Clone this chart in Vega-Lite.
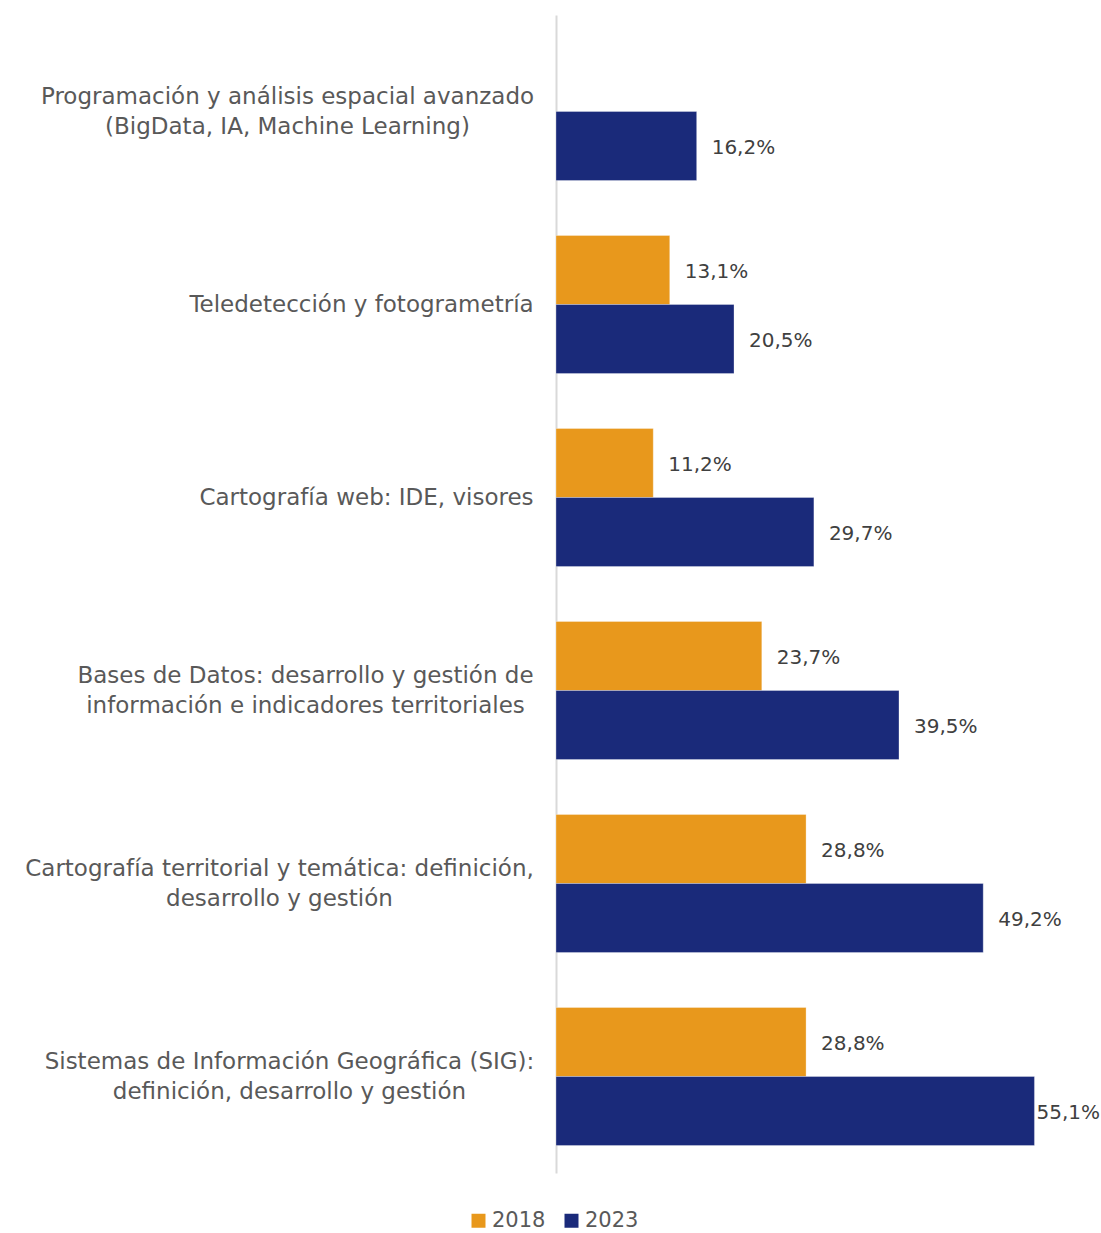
{
  "$schema": "https://vega.github.io/schema/vega-lite/v6.json",
  "autosize": "none",
  "width": 521,
  "height": 1158,
  "padding": {"left": 556, "top": 15, "right": 24, "bottom": 60},
  "background": "white",
  "config": {"view": {"stroke": null}, "font": "DejaVu Sans"},
  "data": {"values": [
    {"cat": "Programación y análisis espacial avanzado|(BigData, IA, Machine Learning)", "year": "2023", "value": 16.2},
    {"cat": "Teledetección y fotogrametría", "year": "2018", "value": 13.1},
    {"cat": "Teledetección y fotogrametría", "year": "2023", "value": 20.5},
    {"cat": "Cartografía web: IDE, visores", "year": "2018", "value": 11.2},
    {"cat": "Cartografía web: IDE, visores", "year": "2023", "value": 29.7},
    {"cat": "Bases de Datos: desarrollo y gestión de|información e indicadores territoriales", "year": "2018", "value": 23.7},
    {"cat": "Bases de Datos: desarrollo y gestión de|información e indicadores territoriales", "year": "2023", "value": 39.5},
    {"cat": "Cartografía territorial y temática: definición,|desarrollo y gestión", "year": "2018", "value": 28.8},
    {"cat": "Cartografía territorial y temática: definición,|desarrollo y gestión", "year": "2023", "value": 49.2},
    {"cat": "Sistemas de Información Geográfica (SIG):|definición, desarrollo y gestión", "year": "2018", "value": 28.8},
    {"cat": "Sistemas de Información Geográfica (SIG):|definición, desarrollo y gestión", "year": "2023", "value": 55.1}
  ]},
  "transform": [
    {"calculate": "replace(format(datum.value, '.1f'), '.', ',') + '%'", "as": "label"}
  ],
  "encoding": {
    "y": {
      "field": "cat", "type": "nominal", "sort": null,
      "scale": {"paddingInner": 0.285, "paddingOuter": 0.1425},
      "axis": {
        "title": null, "ticks": false, "domain": true, "domainColor": "#d9d9d9", "domainWidth": 2,
        "labelFontSize": 23, "labelLineHeight": 30, "labelLimit": 600,
        "labelColor": "#595959", "labelAlign": "center",
        "labelPadding": {
          "condition": [
            {"test": "datum.value == 'Programación y análisis espacial avanzado|(BigData, IA, Machine Learning)'", "value": 269},
            {"test": "datum.value == 'Teledetección y fotogrametría'", "value": 195},
            {"test": "datum.value == 'Cartografía web: IDE, visores'", "value": 190},
            {"test": "datum.value == 'Bases de Datos: desarrollo y gestión de|información e indicadores territoriales'", "value": 251},
            {"test": "datum.value == 'Cartografía territorial y temática: definición,|desarrollo y gestión'", "value": 277}
          ],
          "value": 267
        },
        "labelOffset": {
          "condition": {"test": "datum.value != 'Teledetección y fotogrametría' && datum.value != 'Cartografía web: IDE, visores'", "value": -15},
          "value": 0
        },
        "labelExpr": "split(datum.label, '|')"
      }
    },
    "yOffset": {"field": "year", "type": "nominal", "scale": {"paddingInner": 0, "paddingOuter": 0}},
    "x": {"field": "value", "type": "quantitative", "scale": {"domain": [0, 60]}, "axis": null}
  },
  "layer": [
    {
      "mark": {"type": "bar", "stroke": "#ffffff", "strokeWidth": 0.5, "strokeOpacity": 0.6},
      "encoding": {
        "color": {
          "field": "year", "type": "nominal",
          "scale": {"domain": ["2018", "2023"], "range": ["#E8981C", "#1A2A7A"]},
          "legend": {
            "title": null, "orient": "none", "direction": "horizontal",
            "legendX": -88, "legendY": 1195,
            "symbolType": "square", "symbolSize": 196, "symbolStrokeWidth": 0,
            "labelFontSize": 21, "labelColor": "#595959", "labelOffset": 3,
            "columnPadding": 15
          }
        }
      }
    },
    {
      "transform": [{"filter": "datum.value < 55"}],
      "mark": {"type": "text", "align": "left", "baseline": "middle", "dx": 15, "dy": 2, "fontSize": 20, "color": "#404040"},
      "encoding": {"text": {"field": "label"}}
    },
    {
      "transform": [{"filter": "datum.value >= 55"}],
      "mark": {"type": "text", "align": "left", "baseline": "middle", "dx": 2, "dy": 2, "fontSize": 20, "color": "#404040"},
      "encoding": {"text": {"field": "label"}}
    }
  ]
}
